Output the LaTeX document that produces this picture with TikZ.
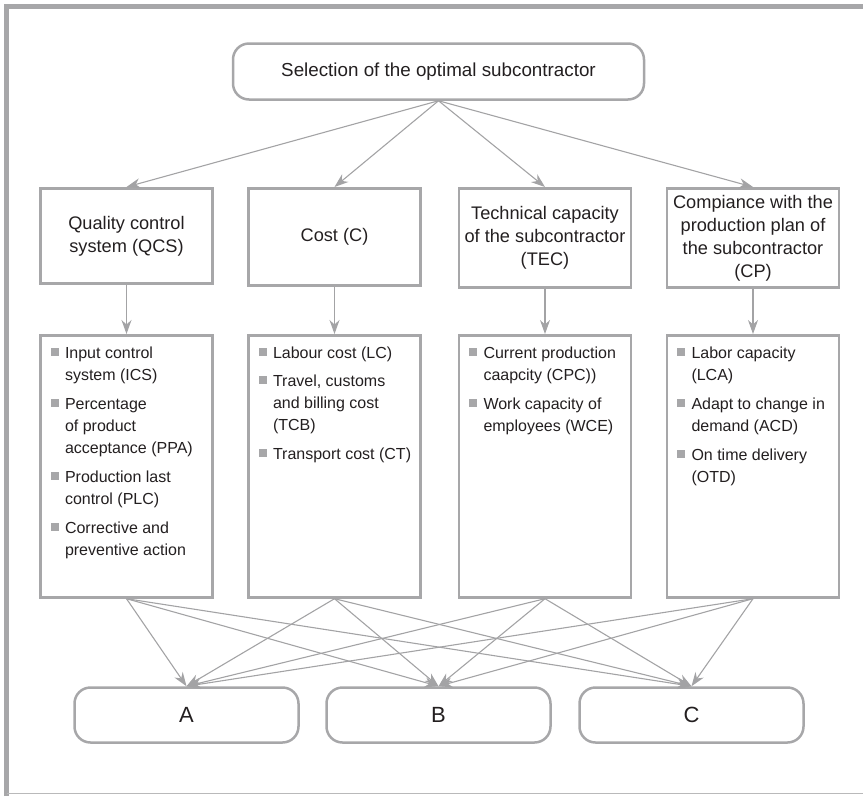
\documentclass[tikz,border=0pt]{standalone}
\usepackage{fontspec}
\setmainfont{Liberation Sans}
\usepackage{tikz}
\usetikzlibrary{arrows.meta, positioning}
\definecolor{boxgray}{HTML}{A7A7A9}
\definecolor{linegray}{HTML}{A3A3A5}
\definecolor{txtgray}{HTML}{231F20}

\newcommand{\sqbul}{\textcolor{boxgray}{\rule{8pt}{8pt}}}
\newcommand{\litem}[1]{\noindent\makebox[14.5pt][l]{\raisebox{2.5pt}{\sqbul}}\begin{tabular}[t]{@{}l@{}}#1\end{tabular}\par\vspace{6pt}}

\begin{document}
\begin{tikzpicture}[x=1pt, y=-1pt,
    topbox/.style={draw=boxgray, line width=2.5pt, rounded corners=16pt, minimum width=411pt, minimum height=56pt, text=txtgray, font=\fontsize{18.8}{22}\selectfont},
    critbox/.style={draw=boxgray, line width=2.7pt, minimum width=172pt, inner sep=2pt, align=center, anchor=north, text=txtgray, font=\fontsize{18.2}{23}\selectfont},
    listbox/.style={draw=boxgray, line width=2.7pt, inner xsep=10pt, inner ysep=7.5pt, anchor=north, text=txtgray, font=\fontsize{16}{22}\selectfont},
    altbox/.style={draw=boxgray, line width=2.5pt, rounded corners=16pt, minimum width=224pt, minimum height=55pt, text=txtgray, font=\fontsize{22}{26}\selectfont},
    link/.style={draw=linegray, line width=1.1pt, -{Stealth[length=14pt, width=10pt, inset=4.5pt]}}]
    \useasboundingbox (0,0) rectangle (863,796);

    % frame
    \draw[boxgray, line width=5pt] (6.5,796) -- (6.5,6.5) -- (863,6.5);
    \draw[boxgray!80, line width=1.5pt] (6.5,793.5) -- (863,793.5);

    \node[topbox] (goal) at (438.5,71.5) {Selection of the optimal subcontractor};

    % criteria
    \node[critbox, minimum height=95pt] (qcs) at (126.5,187) {Quality control\\system (QCS)};
    \node[critbox, minimum height=97pt] (cost) at (334.5,187) {Cost (C)};
    \node[critbox, minimum height=99pt] (tec) at (545,187) {Technical capacity\\of the subcontractor\\(TEC)};
    \node[critbox, minimum height=99pt] (cp) at (753,187) {Compiance with the\\production plan of\\the subcontractor\\(CP)};

    % sub-criteria
    \node[listbox] (qcs-items) at (126.5,334) {\parbox[t][247pt][t]{152pt}{%
        \litem{Input control\\system (ICS)}
        \litem{Percentage\\of product\\acceptance (PPA)}
        \litem{Production last\\control (PLC)}
        \litem{Corrective and\\preventive action}}};
    \node[listbox] (cost-items) at (334.5,334) {\parbox[t][247pt][t]{152pt}{%
        \litem{Labour cost (LC)}
        \litem{Travel, customs\\and billing cost\\(TCB)}
        \litem{Transport cost (CT)}}};
    \node[listbox] (tec-items) at (545,334) {\parbox[t][247pt][t]{152pt}{%
        \litem{Current production\\caapcity (CPC))}
        \litem{Work capacity of\\employees (WCE)}}};
    \node[listbox] (cp-items) at (753,334) {\parbox[t][247pt][t]{152pt}{%
        \litem{Labor capacity\\(LCA)}
        \litem{Adapt to change in\\demand (ACD)}
        \litem{On time delivery\\(OTD)}}};

    % alternatives
    \node[altbox] (a) at (186.5,715) {A};
    \node[altbox] (b) at (438.5,715) {B};
    \node[altbox] (c) at (691.5,715) {C};

    \foreach \src in {qcs, cost, tec, cp} {
        \draw[link] (goal.south) -- (\src.north);
        \draw[link] (\src.south) -- (\src-items.north);
        \foreach \dst in {a, b, c}
            \draw[link] (\src-items.south) -- (\dst.north);
    }
\end{tikzpicture}
\end{document}
